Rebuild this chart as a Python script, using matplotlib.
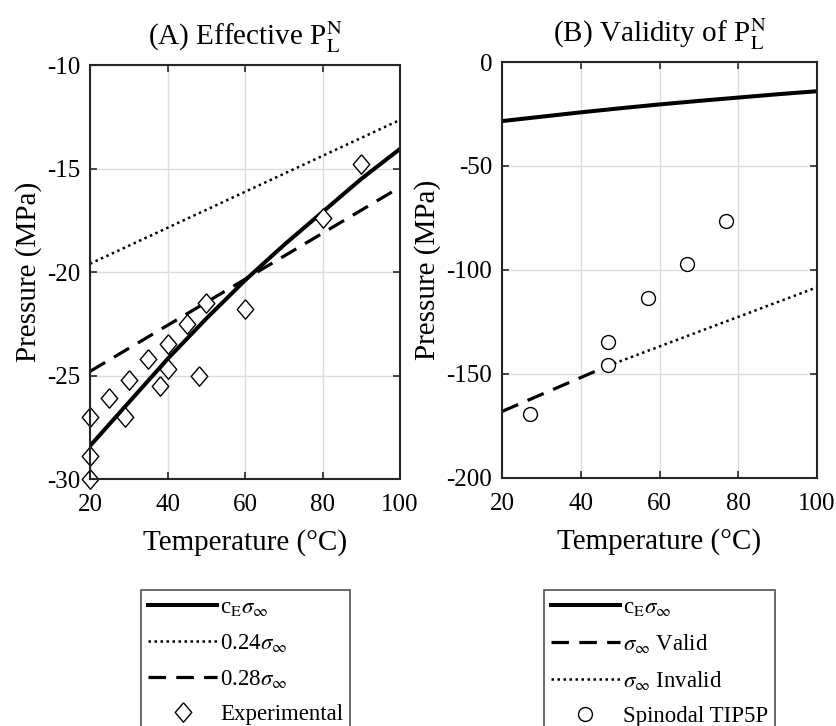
import numpy as np
import matplotlib
matplotlib.use('Agg')
import matplotlib.pyplot as plt

plt.rcParams['font.family'] = ['Liberation Serif', 'DejaVu Serif']
plt.rcParams['mathtext.fontset'] = 'stix'
plt.rcParams['axes.unicode_minus'] = False

# panel A
temp_line = [20, 30, 40, 50, 60, 70, 80, 90, 100]
ce_sigma = [-28.4, -26.3, -24.2, -22.25, -20.4, -18.7, -17.1, -15.5, -14.05]
temp_lin = [20, 100]
sigma_024 = [-19.6, -12.65]
sigma_028 = [-24.8, -15.9]

exp_temp = [20, 20, 20, 25, 29, 30, 35, 38, 40, 40, 45, 48, 50, 60, 80, 90]
exp_press = [-27.0, -28.9, -30.0, -26.1, -27.0, -25.2, -24.2, -25.5, -23.5,
             -24.7, -22.5, -25.0, -21.5, -21.8, -17.4, -14.8]

# panel B
valid_temp = [20, 47]
valid_press = [-168.0, -146.0]
invalid_temp = [47, 100]
invalid_press = [-146.0, -108.3]

tip5p_temp = [27, 47, 47, 57, 67, 77]
tip5p_press = [-169.0, -134.5, -145.5, -113.5, -97.0, -76.5]

diamond = [(0, 1), (0.85, 0), (0, -1), (-0.85, 0), (0, 1)]
frame_col = '#262626'
dash = (0, (5.5, 3.2))
dots = (0, (1, 1.4))


def style_axes(ax):
    ax.grid(True, color='#dcdcdc', linewidth=1.0)
    ax.set_axisbelow(True)
    ax.tick_params(direction='in', top=True, right=True, labelsize=18,
                   length=5, width=1.2, colors=frame_col, labelcolor='black')
    ax.tick_params(axis='x', pad=11)
    ax.tick_params(axis='y', pad=7)
    for s in ax.spines.values():
        s.set_color(frame_col)
        s.set_linewidth(1.5)


fig = plt.figure(figsize=(8.36, 7.26), dpi=100)
ax1 = fig.add_axes([0.1077, 0.3402, 0.3708, 0.5702])
ax2 = fig.add_axes([0.6005, 0.3416, 0.3768, 0.5730])

ax1.plot(temp_line, ce_sigma, 'k-', lw=2.9, label=r'c$_\mathrm{E}\sigma_\infty$')
ax1.plot(temp_lin, sigma_024, 'k', ls=dots, lw=1.8, label=r'0.24$\sigma_\infty$')
ax1.plot(temp_lin, sigma_028, 'k', ls=dash, lw=2.3, label=r'0.28$\sigma_\infty$')
ax1.plot(exp_temp, exp_press, ls='none', marker=diamond, ms=14, mfc='white',
         mec='black', mew=1.0, clip_on=False, label='Experimental')
ax1.set_xlim(20, 100)
ax1.set_ylim(-30, -10)
ax1.set_xticks([20, 40, 60, 80, 100])
ax1.set_yticks([-30, -25, -20, -15, -10])
ax1.set_xlabel('Temperature (°C)', fontsize=21, labelpad=9)
ax1.set_ylabel('Pressure (MPa)', fontsize=21)
ax1.set_title(r'(A) Effective P$_\mathrm{L}^\mathrm{N}$', fontsize=21, pad=14)
style_axes(ax1)

ax2.plot(temp_line, ce_sigma, 'k-', lw=2.9, label=r'c$_\mathrm{E}\sigma_\infty$')
ax2.plot(valid_temp, valid_press, 'k', ls=dash, lw=2.3, label=r'$\sigma_\infty$ Valid')
ax2.plot(invalid_temp, invalid_press, 'k', ls=dots, lw=1.8, label=r'$\sigma_\infty$ Invalid')
ax2.plot(tip5p_temp, tip5p_press, ls='none', marker='o', ms=10, mfc='white',
         mec='black', mew=1.0, clip_on=False, label='Spinodal TIP5P')
ax2.set_xlim(20, 100)
ax2.set_ylim(-200, 0)
ax2.set_xticks([20, 40, 60, 80, 100])
ax2.set_yticks([-200, -150, -100, -50, 0])
ax2.set_xlabel('Temperature (°C)', fontsize=21, labelpad=9)
ax2.set_ylabel('Pressure (MPa)', fontsize=21)
ax2.set_title(r'(B) Validity of P$_\mathrm{L}^\mathrm{N}$', fontsize=21, pad=14)
style_axes(ax2)

for ax, cx in [(ax1, 0.294), (ax2, 0.789)]:
    leg = fig.legend(*ax.get_legend_handles_labels(), loc='upper center',
                     bbox_to_anchor=(cx, 0.2025), fontsize=16.5, frameon=True,
                     fancybox=False, edgecolor=frame_col, handlelength=3.0,
                     handletextpad=0.15, labelspacing=0.6, borderpad=0.3)
    leg.get_frame().set_linewidth(1.2)

fig.savefig('out.png', dpi=100)
